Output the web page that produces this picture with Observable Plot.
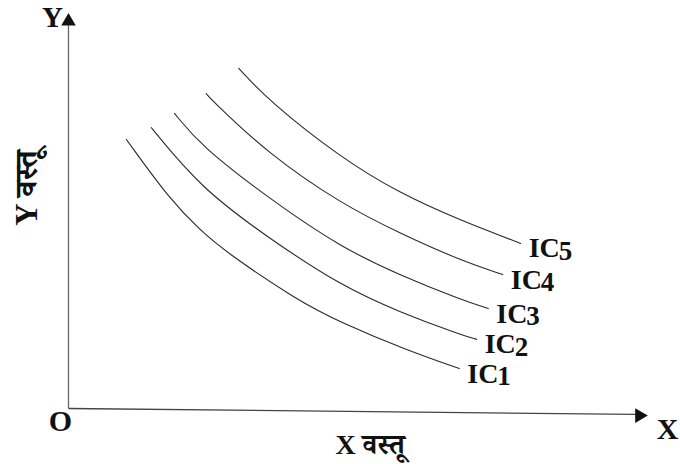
<!DOCTYPE html>
<html>
<head>
<meta charset="utf-8">
<script src="https://cdn.jsdelivr.net/npm/d3@7"></script>
<script src="https://cdn.jsdelivr.net/npm/@observablehq/plot@0.6"></script>
<style>
  html, body { margin: 0; padding: 0; background: #fff; }
</style>
</head>
<body>
<div id="chart"></div>
<script>
// Indifference curves (x = quantity of good X, y = quantity of good Y)
const curveNames = ["IC1", "IC2", "IC3", "IC4", "IC5"];
const curveDigits = ["1", "2", "3", "4", "5"];
const ic1 = [[10.0, 68.1], [17.6, 52.7], [22.8, 45.1], [26.8, 40.0], [39.6, 27.3], [47.0, 21.8], [58.5, 14.7], [67.5, 10.1]];
const ic2 = [[14.3, 71.1], [22.8, 55.9], [34.4, 43.3], [47.0, 31.1], [57.3, 24.3], [67.7, 18.7], [70.5, 17.5]];
const ic3 = [[18.3, 74.7], [22.8, 66.6], [34.4, 53.4], [47.0, 40.8], [57.3, 33.7], [67.7, 27.6], [72.5, 25.3]];
const ic4 = [[23.8, 79.7], [24.8, 78.0], [34.4, 64.6], [47.0, 51.9], [57.3, 44.3], [67.7, 37.5], [75.0, 33.9]];
const ic5 = [[29.4, 86.1], [34.5, 78.0], [47.0, 63.5], [57.3, 54.4], [67.7, 47.6], [78.1, 41.8]];
const curves = [ic1, ic2, ic3, ic4, ic5];

// Axis geometry (data units) and texts
const origin = [0, 0];
const yAxisEnd = [0, 97.0];
const xAxisEnd = [98.0, -1.5];
const yArrow = [0, 98.0];
const xArrow = [98.6, -1.8];
const yTip = [0, 100];
const xTip = [100, -1.8];
const axisLetters = { origin: "O", x: "X", y: "Y" };
const xTitle = "X वस्तू";
const yTitle = "Y वस्तू";

// Build tables for the library
const curveRows = curves.flatMap((pts, i) => pts.map(([x, y]) => ({ name: curveNames[i], x, y })));
const endRows = curves.map((pts, i) => ({ name: curveNames[i], digit: curveDigits[i], x: pts[pts.length - 1][0], y: pts[pts.length - 1][1] }));

const serif = "'Liberation Serif', 'Times New Roman', 'Noto Serif Devanagari', 'Noto Sans Devanagari', serif";
const ink = "#111";

const chart = Plot.plot({
  width: 680,
  height: 464,
  marginLeft: 68,
  marginRight: 33,
  marginTop: 13,
  marginBottom: 56,
  x: { domain: [0, 100], axis: null },
  y: { domain: [0, 100], axis: null },
  style: { background: "#fff", fontFamily: serif, overflow: "visible" },
  marks: [
    // axes
    Plot.link([[origin, yAxisEnd]], { x1: d => d[0][0], y1: d => d[0][1], x2: d => d[1][0], y2: d => d[1][1], stroke: "#666", strokeWidth: 1.3 }),
    Plot.link([[origin, xAxisEnd]], { x1: d => d[0][0], y1: d => d[0][1], x2: d => d[1][0], y2: d => d[1][1], stroke: "#444", strokeWidth: 1.3 }),
    Plot.dot([yArrow], { x: d => d[0], y: d => d[1], symbol: "triangle", r: 5.4, fill: ink, stroke: "none" }),
    Plot.dot([xArrow], { x: d => d[0], y: d => d[1], symbol: "triangle", r: 5.4, fill: ink, stroke: "none", rotate: 90 }),
    // curves
    Plot.line(curveRows, { x: "x", y: "y", z: "name", curve: "basis", stroke: "#2a2a2a", strokeWidth: 1.1 }),
    // curve labels
    Plot.text(endRows, { x: "x", y: "y", text: () => "IC", textAnchor: "start", lineAnchor: "middle", dx: 8, dy: 5, fontSize: 28, fontWeight: "bold", fill: ink }),
    Plot.text(endRows, { x: "x", y: "y", text: "digit", textAnchor: "start", lineAnchor: "middle", dx: 38, dy: 8, fontSize: 27, fontWeight: "bold", fill: ink }),
    // axis letters
    Plot.text([origin], { x: d => d[0], y: d => d[1], text: () => axisLetters.origin, dx: -8, dy: 13, fontSize: 30, fontWeight: "bold", fill: ink, lineAnchor: "middle" }),
    Plot.text([xTip], { x: d => d[0], y: d => d[1], text: () => axisLetters.x, dx: 20, dy: 14, fontSize: 30, fontWeight: "bold", fill: ink, lineAnchor: "middle" }),
    Plot.text([yTip], { x: d => d[0], y: d => d[1], text: () => axisLetters.y, dx: -16, dy: 4, fontSize: 29, fontWeight: "bold", fill: ink, lineAnchor: "middle" }),
    // axis titles
    Plot.text([xTitle], { frameAnchor: "bottom", textAnchor: "middle", dx: 12, dy: 37, fontSize: 28, fontWeight: "bold", fill: ink, lineAnchor: "middle" }),
    Plot.text([yTitle], { frameAnchor: "left", textAnchor: "middle", rotate: -90, dx: -41, dy: -23, fontSize: 31, fontWeight: "bold", fill: ink, lineAnchor: "middle" })
  ]
});
document.getElementById("chart").appendChild(chart);
</script>
</body>
</html>
